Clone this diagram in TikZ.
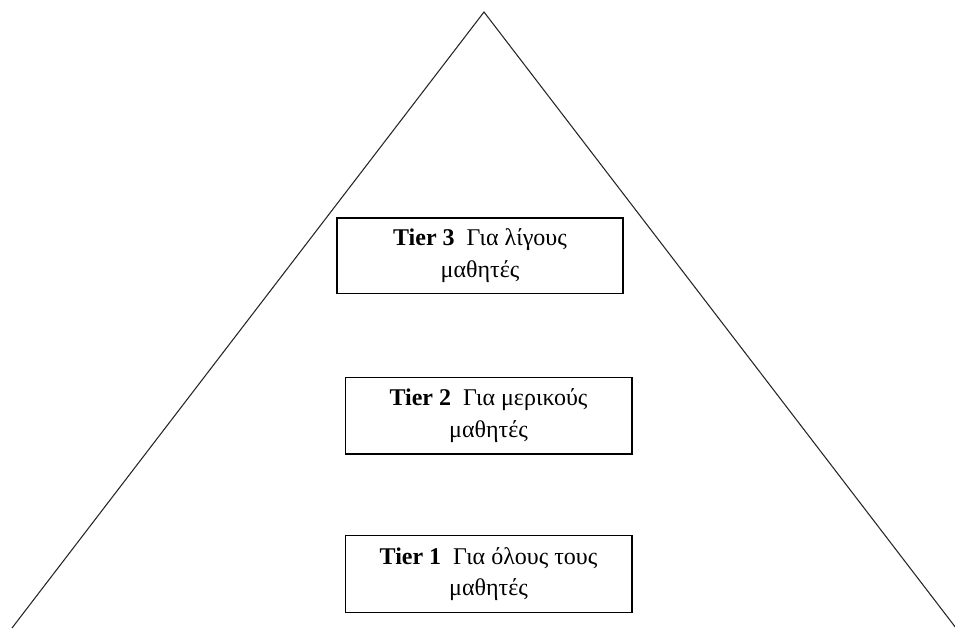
\documentclass[tikz,border=0pt]{standalone}
\usepackage{fontspec}
\setmainfont{Liberation Serif}
\begin{document}
\begin{tikzpicture}[x=0.75pt,y=-0.75pt,thick,
    tier node/.style={draw,line width=1pt,align=center,inner sep=0pt,
        minimum width=215pt,minimum height=57.5pt,font=\fontsize{18}{23.5}\selectfont}]
    \useasboundingbox (0,0) rectangle (955,628);
    \coordinate (top) at (484,12);
    \coordinate (left) at (12,628);
    \coordinate (right) at (956,628);
    \draw[line width=0.8pt,black!85] (left) -- (top) -- (right);

    \node[tier node,minimum width=214.5pt,minimum height=56.5pt] at (480,255.5) (t3) {\textbf{Tier 3}\enspace Για λίγους\\μαθητές};
    \node[tier node] at (488.5,415.5) (t2) {\textbf{Tier 2}\enspace Για μερικούς\\μαθητές};
    \node[tier node] at (488.5,574) (t1) {\textbf{Tier 1}\enspace Για όλους τους\\μαθητές};
\end{tikzpicture}
\end{document}
